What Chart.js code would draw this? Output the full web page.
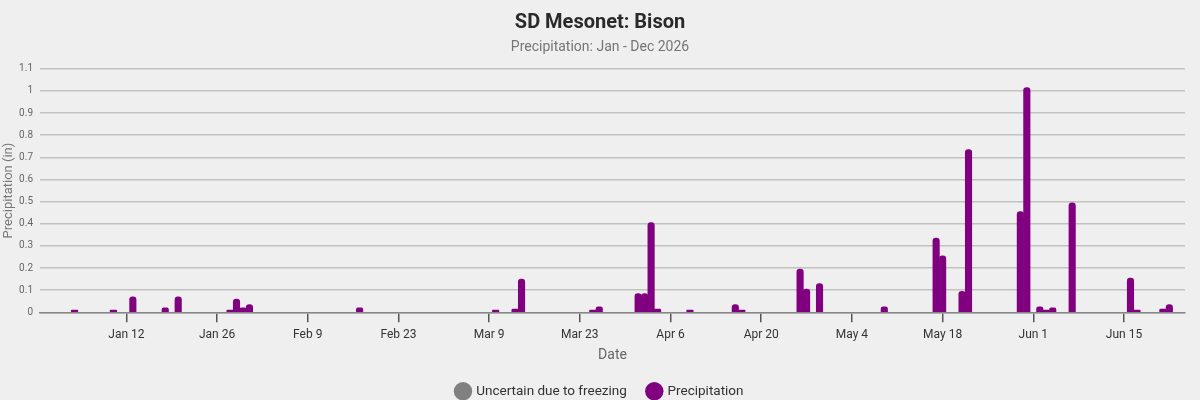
<!DOCTYPE html>
<html>
<head>
<meta charset="utf-8">
<script src="https://cdn.jsdelivr.net/npm/chart.js@4"></script>
<style>
  html, body { margin: 0; padding: 0; background: #efefef; }
  #wrap { width: 1200px; height: 400px; }
</style>
</head>
<body>
<div id="wrap"><canvas id="precipChart"></canvas></div>
<script>
// Bison daily precipitation (inches)
const precipDates = [
  "2026-01-04", "2026-01-10", "2026-01-13", "2026-01-18", "2026-01-20",
  "2026-01-28", "2026-01-29", "2026-01-30", "2026-01-31", "2026-02-17",
  "2026-03-10", "2026-03-13", "2026-03-14", "2026-03-25", "2026-03-26",
  "2026-04-01", "2026-04-02", "2026-04-03", "2026-04-04", "2026-04-09",
  "2026-04-16", "2026-04-17", "2026-04-26", "2026-04-27", "2026-04-29",
  "2026-05-09", "2026-05-17", "2026-05-18", "2026-05-21", "2026-05-22",
  "2026-05-30", "2026-05-31", "2026-06-02", "2026-06-03", "2026-06-04",
  "2026-06-07", "2026-06-16", "2026-06-17", "2026-06-21", "2026-06-22",
];
const precipValues = [
  0.01, 0.01, 0.07, 0.02, 0.07,
  0.01, 0.06, 0.02, 0.035, 0.02,
  0.01, 0.015, 0.15, 0.01, 0.025,
  0.085, 0.085, 0.405, 0.015, 0.01,
  0.035, 0.01, 0.195, 0.105, 0.13,
  0.025, 0.335, 0.255, 0.095, 0.735,
  0.455, 1.015, 0.025, 0.01, 0.02,
  0.495, 0.155, 0.01, 0.015, 0.035,
];
// no freezing-flagged days in this period
const frozenDates = [];
const frozenValues = [];

const tickDates = [
  "2026-01-12", "2026-01-26", "2026-02-09", "2026-02-23", "2026-03-09",
  "2026-03-23", "2026-04-06", "2026-04-20", "2026-05-04", "2026-05-18",
  "2026-06-01", "2026-06-15",
];
const monthNames = ["Jan", "Feb", "Mar", "Apr", "May", "Jun", "Jul", "Aug", "Sep", "Oct", "Nov", "Dec"];

const rangeStart = "2025-12-29T16:00";
const rangeEnd = "2026-06-24T10:00";

// days since Jan 1 2026
const base = Date.UTC(2026, 0, 1);
function dayNum(s) {
  const [d, t] = s.split("T");
  const [y, m, dd] = d.split("-").map(Number);
  let ms = Date.UTC(y, m - 1, dd);
  if (t) {
    const [hh, mm] = t.split(":").map(Number);
    ms += (hh * 60 + mm) * 60000;
  }
  return (ms - base) / 86400000;
}
function fmtDay(n) {
  const dt = new Date(base + Math.round(n) * 86400000);
  return monthNames[dt.getUTCMonth()] + " " + dt.getUTCDate();
}

const precipPoints = precipDates.map((d, i) => ({ x: dayNum(d), y: precipValues[i] }));
const frozenPoints = frozenDates.map((d, i) => ({ x: dayNum(d), y: frozenValues[i] }));
const tickDays = tickDates.map(dayNum);

const FONT = "Roboto, 'Noto Sans', sans-serif";

const ctx = document.getElementById("precipChart").getContext("2d");
new Chart(ctx, {
  type: "bar",
  data: {
    datasets: [
      {
        label: "Uncertain due to freezing",
        data: frozenPoints,
        backgroundColor: "#808080",
        borderColor: "#808080",
        borderRadius: 4,
        borderSkipped: "bottom",
        barPercentage: 1,
        categoryPercentage: 1,
      },
      {
        label: "Precipitation",
        data: precipPoints,
        backgroundColor: "#800080",
        borderColor: "#800080",
        borderRadius: 4,
        borderSkipped: "bottom",
        barPercentage: 1,
        categoryPercentage: 1,
      },
    ],
  },
  options: {
    responsive: true,
    maintainAspectRatio: false,
    animation: false,
    layout: { padding: { top: 11, right: 0, left: 0, bottom: -8 } },
    plugins: {
      title: {
        display: true,
        text: "SD Mesonet: Bison",
        color: "#2a2a2a",
        font: { family: FONT, size: 20, weight: "bold" },
        padding: { top: 0, bottom: 4 },
      },
      subtitle: {
        display: true,
        text: "Precipitation: Jan - Dec 2026",
        color: "#757575",
        font: { family: FONT, size: 14 },
        padding: { top: 0, bottom: 13 },
      },
      legend: {
        position: "bottom",
        labels: {
          usePointStyle: true,
          pointStyle: "circle",
          boxWidth: 13,
          boxHeight: 13,
          padding: 21,
          color: "#333",
          font: { family: FONT, size: 13.5 },
        },
      },
      tooltip: { enabled: false },
    },
    scales: {
      x: {
        type: "linear",
        stacked: true,
        offset: false,
        min: dayNum(rangeStart),
        max: dayNum(rangeEnd),
        afterBuildTicks: (scale) => {
          scale.ticks = tickDays.map((v) => ({ value: v }));
        },
        ticks: {
          autoSkip: false,
          maxRotation: 0,
          color: "#333",
          padding: 5,
          font: { family: FONT, size: 12 },
          callback: (v) => fmtDay(v),
        },
        grid: {
          offset: false,
          drawOnChartArea: false,
          drawTicks: true,
          tickLength: 10,
          color: "#555",
          lineWidth: 1.5,
        },
        border: { display: true, color: "#888", width: 1.5 },
        title: {
          display: true,
          text: "Date",
          color: "#666",
          font: { family: FONT, size: 14 },
          padding: { top: 0, bottom: 0 },
        },
      },
      y: {
        stacked: true,
        min: 0,
        max: 1.1,
        afterFit: (scale) => {
          scale.width = 40;
        },
        ticks: {
          stepSize: 0.1,
          color: "#666",
          padding: 7,
          font: { family: FONT, size: 10 },
          callback: (v) => String(Math.round(v * 10) / 10),
        },
        grid: { drawTicks: false, color: "#c2c2c2", lineWidth: 1.5 },
        border: { display: false },
        title: {
          display: true,
          text: "Precipitation (in)",
          color: "#777",
          font: { family: FONT, size: 13 },
          padding: { top: 1, bottom: 2 },
        },
      },
      // empty right-hand gutter so title and legend stay centred on the page
      yRight: {
        position: "right",
        display: true,
        afterFit: (scale) => {
          scale.width = 15;
        },
        ticks: { display: false },
        grid: { display: false },
        border: { display: false },
      },
    },
  },
});
</script>
</body>
</html>
